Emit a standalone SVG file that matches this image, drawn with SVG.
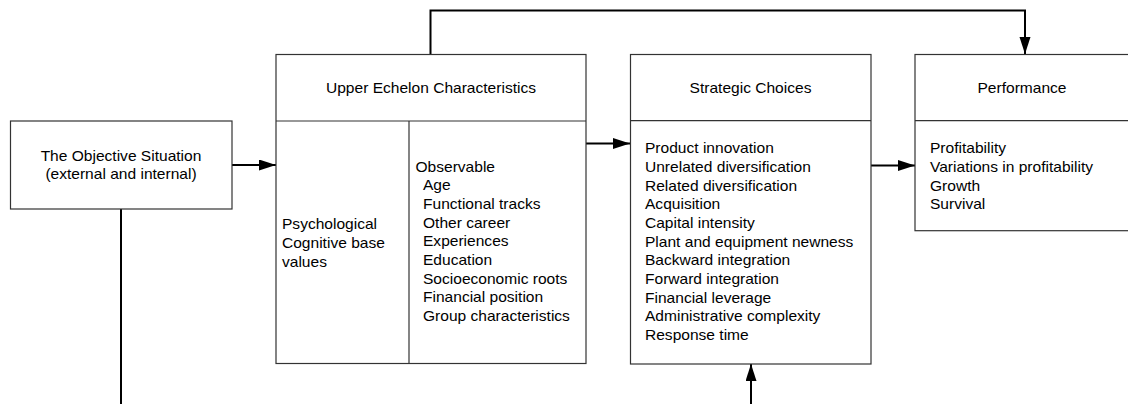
<svg xmlns="http://www.w3.org/2000/svg" width="1128" height="404" viewBox="0 0 1128 404">
  <style>
    .box { fill: #ffffff; stroke: #333333; stroke-width: 1.2; }
    .div { fill: none; stroke: #333333; stroke-width: 1.2; }
    .conn { fill: none; stroke: #000000; stroke-width: 2; }
    text { font-family: "Liberation Sans", Arial, sans-serif; font-size: 15.56px; fill: #000000; }
    .c { text-anchor: middle; }
  </style>
  <defs>
    <marker id="arrow" markerUnits="userSpaceOnUse" markerWidth="18" markerHeight="12" refX="17" refY="5.5" orient="auto">
      <path d="M0,0 L17,5.5 L0,11 Z" fill="#000000"/>
    </marker>
  </defs>

  <!-- Connectors -->
  <g id="connectors">
    <line class="conn" x1="121" y1="209" x2="121" y2="404"/>
    <line class="conn" x1="232" y1="165" x2="276" y2="165" marker-end="url(#arrow)"/>
    <line class="conn" x1="586" y1="143.5" x2="630" y2="143.5" marker-end="url(#arrow)"/>
    <line class="conn" x1="871" y1="165.5" x2="915" y2="165.5" marker-end="url(#arrow)"/>
    <line class="conn" x1="751" y1="404" x2="751" y2="364" marker-end="url(#arrow)"/>
    <path class="conn" d="M430.5,54 V10.5 H1025 V54" marker-end="url(#arrow)"/>
  </g>

  <!-- The Objective Situation -->
  <g id="objective-situation">
    <rect class="box" x="10.5" y="121" width="221.5" height="88"/>
    <text class="c" x="121" y="160.5">The Objective Situation</text>
    <text class="c" x="121" y="179">(external and internal)</text>
  </g>

  <!-- Upper Echelon Characteristics -->
  <g id="upper-echelon">
    <rect class="box" x="276" y="54.5" width="310" height="309"/>
    <line class="div" x1="276" y1="121" x2="586" y2="121"/>
    <line class="div" x1="409" y1="121" x2="409" y2="363.5"/>
    <text class="c" x="431" y="92.7">Upper Echelon Characteristics</text>
    <text x="282" y="229.3">Psychological</text>
    <text x="282" y="247.9">Cognitive base</text>
    <text x="282" y="266.5">values</text>
    <text x="415.5" y="171.7">Observable</text>
    <text x="423" y="190.4">Age</text>
    <text x="423" y="209">Functional tracks</text>
    <text x="423" y="227.7">Other career</text>
    <text x="423" y="246.4">Experiences</text>
    <text x="423" y="265">Education</text>
    <text x="423" y="283.7">Socioeconomic roots</text>
    <text x="423" y="302.4">Financial position</text>
    <text x="423" y="321">Group characteristics</text>
  </g>

  <!-- Strategic Choices -->
  <g id="strategic-choices">
    <rect class="box" x="630.5" y="54.5" width="240.5" height="309.5"/>
    <line class="div" x1="630.5" y1="120.7" x2="871" y2="120.7"/>
    <text class="c" x="750.5" y="92.7">Strategic Choices</text>
    <text x="645" y="153.3">Product innovation</text>
    <text x="645" y="172">Unrelated diversification</text>
    <text x="645" y="190.6">Related diversification</text>
    <text x="645" y="209.3">Acquisition</text>
    <text x="645" y="228">Capital intensity</text>
    <text x="645" y="246.6">Plant and equipment newness</text>
    <text x="645" y="265.3">Backward integration</text>
    <text x="645" y="284">Forward integration</text>
    <text x="645" y="302.6">Financial leverage</text>
    <text x="645" y="321.3">Administrative complexity</text>
    <text x="645" y="340">Response time</text>
  </g>

  <!-- Performance -->
  <g id="performance">
    <rect class="box" x="915" y="54.5" width="215" height="176.2"/>
    <line class="div" x1="915" y1="120.7" x2="1130" y2="120.7"/>
    <text class="c" x="1022" y="92.7">Performance</text>
    <text x="930" y="153.3">Profitability</text>
    <text x="930" y="172">Variations in profitability</text>
    <text x="930" y="190.6">Growth</text>
    <text x="930" y="209.3">Survival</text>
  </g>
</svg>
